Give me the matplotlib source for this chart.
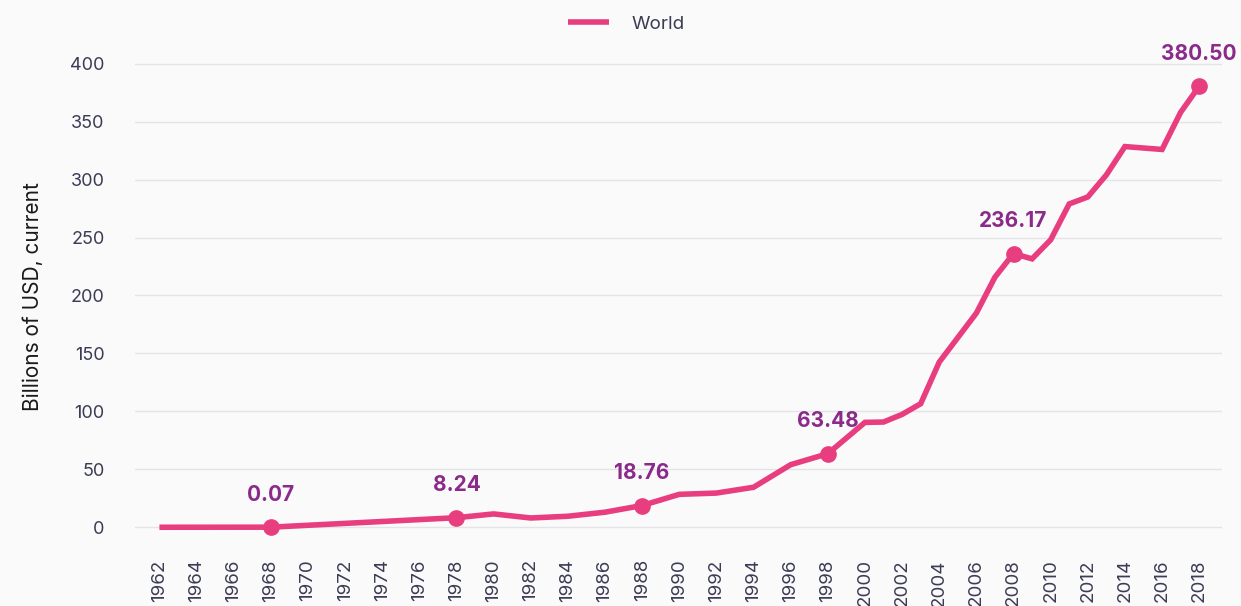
import numpy as np
import matplotlib.pyplot as plt

plt.rcParams['font.family'] = ['Inter', 'DejaVu Sans']

# Dados (bilhões de USD, correntes)
anos = [1962, 1968, 1978, 1980, 1982, 1984, 1986, 1988, 1990, 1992, 1994, 1996,
        1998, 2000, 2001, 2002, 2003, 2004, 2006, 2007, 2008, 2009, 2010, 2011,
        2012, 2013, 2014, 2016, 2017, 2018]
valores = [0.0, 0.07, 8.24, 11.5, 8.0, 9.5, 13.0, 18.76, 28.4, 29.5, 34.5, 54.0,
           63.48, 90.5, 90.8, 97.4, 106.6, 142.5, 184.8, 215.8, 236.17, 231.6, 248.0, 279.0,
           285.0, 304.0, 328.5, 326.0, 358.0, 380.50]

# Anos com marcador e rótulo
anos_rotulo = [1968, 1978, 1988, 1998, 2008, 2018]
rotulos = ['0.07', '8.24', '18.76', '63.48', '236.17', '380.50']

cor_linha = '#e83e80'
cor_rotulo = '#8a2a8a'
cor_texto = '#3b3b55'

fig = plt.figure(figsize=(12.41, 6.06), dpi=100)
fig.patch.set_facecolor('#fafafa')
ax = fig.add_axes([0.109, 0.107, 0.876, 0.807])
ax.set_facecolor('#fafafa')

ax.plot(anos, valores, color=cor_linha, linewidth=4, solid_capstyle='butt',
        solid_joinstyle='miter', label='World', zorder=3)

y_rot = [valores[anos.index(a)] for a in anos_rotulo]
ax.plot(anos_rotulo, y_rot, 'o', color=cor_linha, markersize=11, zorder=4)
for a, v, r in zip(anos_rotulo, y_rot, rotulos):
    ax.annotate(r, (a, v), xytext=(0, 16), textcoords='offset points',
                ha='center', va='bottom', fontsize=15, fontweight='bold',
                color=cor_rotulo)

ax.set_xlim(1960.7, 2019.25)
ax.set_ylim(-12, 410)
ax.set_yticks(np.arange(0, 401, 50))
ax.set_xticks(np.arange(1962, 2019, 2))
ax.tick_params(axis='x', labelrotation=90, length=0, pad=13, labelsize=13.5, colors=cor_texto)
ax.tick_params(axis='y', length=0, pad=22, labelsize=13, colors=cor_texto)
ax.grid(axis='y', color='#e4e4e8', linewidth=1)
ax.set_axisbelow(True)
for s in ax.spines.values():
    s.set_visible(False)

ax.set_ylabel('Billions of USD, current', fontsize=15, color='#1a1a1a', labelpad=20)

ax.legend(loc='center', bbox_to_anchor=(0.452, 1.057), frameon=False,
          fontsize=13.5, handlelength=2.2, handletextpad=1.2,
          labelcolor=cor_texto)

plt.savefig('out.png', dpi=100, facecolor=fig.get_facecolor())
